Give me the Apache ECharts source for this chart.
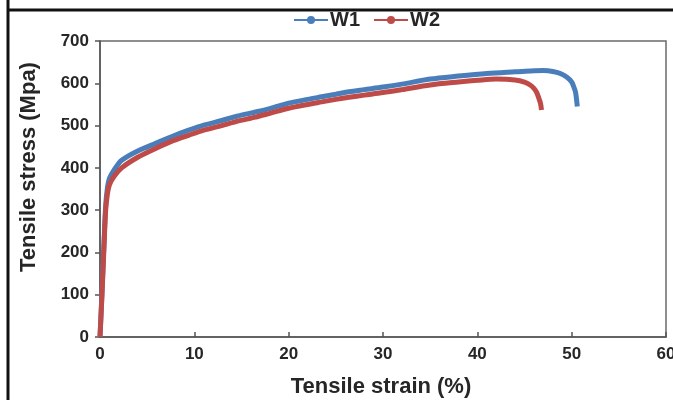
<!DOCTYPE html>
<html>
<head>
<meta charset="utf-8">
<script src="https://cdn.jsdelivr.net/npm/echarts@6/dist/echarts.min.js"></script>
<style>
html,body{margin:0;padding:0;background:#fff;}
#chart{width:673px;height:400px;}
</style>
</head>
<body>
<div id="chart"></div>
<script>
var seriesNames = ['W1', 'W2'];
var xTicks = [0, 10, 20, 30, 40, 50, 60];
var yTicks = [0, 100, 200, 300, 400, 500, 600, 700];

var strainW1 = [0, 0.2, 0.4, 0.6, 0.8, 1.0, 1.5, 2.3, 4, 5.9, 7.5, 9.4, 11, 12.9, 14.5, 16.5, 18, 20, 22, 23.5, 25, 26.4, 28, 30, 32, 35, 38, 41, 44, 45.6, 47, 48, 48.8, 49.5, 50, 50.2, 50.4, 50.5, 50.6];
var stressW1 = [0, 100, 210, 310, 355, 375, 395, 418, 440, 458, 473, 489, 501, 512, 522, 532, 540, 553, 562, 568, 574, 580, 585, 591, 598, 610, 617, 623, 627, 629, 630, 628, 623, 614, 603, 593, 580, 565, 545];

var strainW2 = [0, 0.2, 0.4, 0.6, 0.8, 1.0, 1.5, 2.3, 4, 5.9, 7.5, 9.4, 11, 12.9, 14.5, 16.5, 18, 20, 22, 23.5, 25, 26.4, 28, 30, 32, 35, 38, 40, 42, 44, 45, 45.6, 46, 46.3, 46.5, 46.7, 46.8];
var stressW2 = [0, 95, 200, 300, 340, 360, 380, 400, 425, 446, 462, 477, 489, 500, 510, 520, 529, 541, 550, 556, 562, 567, 572, 578, 585, 596, 603, 607, 610, 608, 603, 596, 588, 578, 566, 552, 537];

function zip(xs, ys) { return xs.map(function (x, i) { return [x, ys[i]]; }); }

var chart = echarts.init(document.getElementById('chart'), null, {renderer: 'canvas'});
var font = 'Liberation Sans';
var txt = '#262626';
chart.setOption({
  animation: false,
  backgroundColor: '#fff',
  graphic: [
    {type: 'line', shape: {x1: 8, y1: 0, x2: 8, y2: 400}, style: {stroke: '#111', lineWidth: 3}},
    {type: 'line', shape: {x1: 8, y1: 10, x2: 673, y2: 10}, style: {stroke: '#111', lineWidth: 3}}
  ],
  legend: {
    top: 10,
    left: 293,
    itemWidth: 34,
    itemHeight: 10,
    itemGap: 13,
    padding: 0,
    textStyle: {fontFamily: font, fontWeight: 'bold', fontSize: 20, color: txt, padding: [0, 0, 0, -3]},
    data: seriesNames
  },
  grid: {left: 100, right: 7, top: 41, bottom: 63, show: true, borderColor: '#6a6a6a', borderWidth: 1.5,
    containLabel: false, outerBoundsMode: 'none'},
  xAxis: {
    type: 'value', min: 0, max: 60, interval: 10,
    name: 'Tensile strain (%)', nameLocation: 'middle', nameGap: 39,
    nameTextStyle: {fontFamily: font, fontWeight: 'bold', fontSize: 22, color: txt, padding: [0, 4, 0, 0]},
    axisLine: {show: true, lineStyle: {color: '#555', width: 1.5}},
    axisTick: {show: true, inside: true, length: 5, lineStyle: {color: '#555', width: 1.5}},
    axisLabel: {fontFamily: font, fontWeight: 'bold', fontSize: 17, color: txt, margin: 9,
      formatter: function (v) { return xTicks.indexOf(v) >= 0 ? String(v) : ''; }},
    splitLine: {show: false}
  },
  yAxis: {
    type: 'value', min: 0, max: 700, interval: 100,
    name: 'Tensile stress (Mpa)', nameLocation: 'middle', nameGap: 60, nameRotate: 90,
    nameTextStyle: {fontFamily: font, fontWeight: 'bold', fontSize: 22, color: txt, padding: [0, 0, 0, 44]},
    axisLine: {show: true, lineStyle: {color: '#555', width: 1.5}},
    axisTick: {show: true, inside: false, length: 5, lineStyle: {color: '#555', width: 1.5}},
    axisLabel: {fontFamily: font, fontWeight: 'bold', fontSize: 17, color: txt, margin: 11,
      formatter: function (v) { return yTicks.indexOf(v) >= 0 ? String(v) : ''; }},
    splitLine: {show: false}
  },
  series: [
    {
      name: seriesNames[0], type: 'line', data: zip(strainW1, stressW1),
      smooth: 0.3, symbol: 'circle', symbolSize: 6, showSymbol: false,
      lineStyle: {color: '#4a7ebb', width: 5},
      itemStyle: {color: '#4a7ebb'}
    },
    {
      name: seriesNames[1], type: 'line', data: zip(strainW2, stressW2),
      smooth: 0.3, symbol: 'circle', symbolSize: 6, showSymbol: false,
      lineStyle: {color: '#be4b48', width: 5},
      itemStyle: {color: '#be4b48'}
    }
  ]
});
</script>
</body>
</html>
